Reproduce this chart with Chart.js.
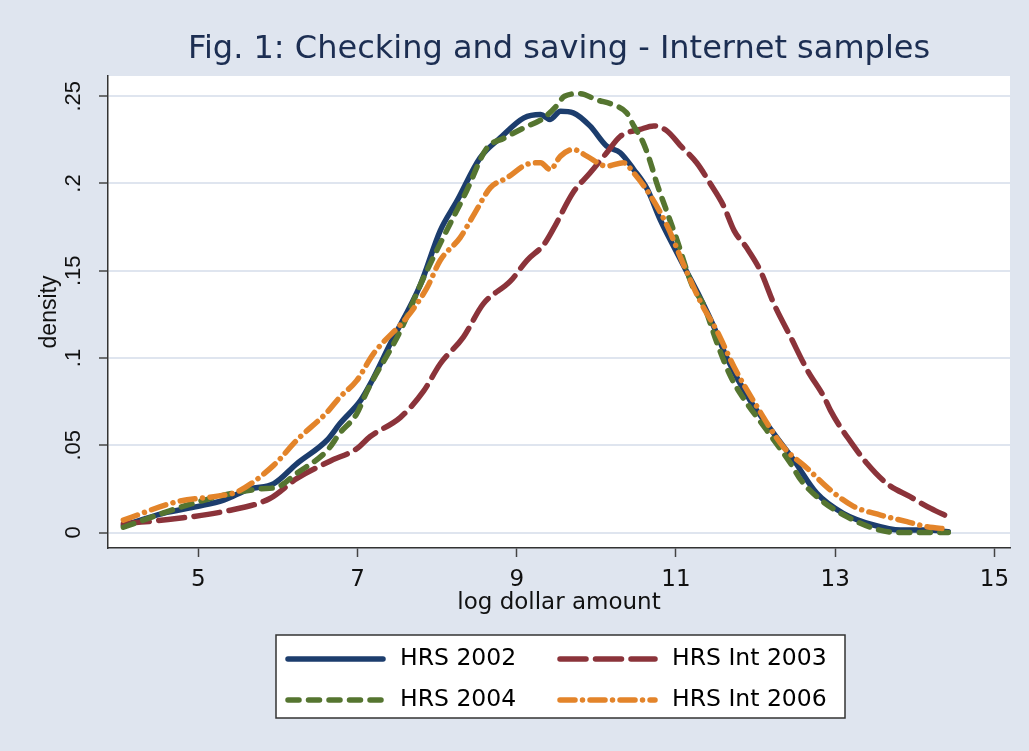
<!DOCTYPE html>
<html>
<head>
<meta charset="utf-8">
<script src="https://cdn.jsdelivr.net/npm/chart.js@4.4.1/dist/chart.umd.min.js"></script>
<style>
  html, body { margin: 0; padding: 0; background: #dfe5ef; }
  canvas { display: block; }
</style>
</head>
<body>
<canvas id="chart" width="1029" height="751"></canvas>
<script>
// series labels
const seriesLabels = ['HRS 2002', 'HRS Int 2003', 'HRS 2004', 'HRS Int 2006'];

// HRS 2002
const x2002 = [4.06, 4.56, 5.0, 5.32, 5.65, 5.95, 6.24, 6.62, 6.78, 7.04, 7.16, 7.41, 7.79, 8.04, 8.25, 8.54, 8.79, 9.09, 9.30, 9.42, 9.55, 9.71, 9.92, 10.13, 10.3, 10.47, 10.64, 10.8, 10.97, 11.14, 11.31, 11.47, 11.64, 11.93, 12.23, 12.48, 12.77, 13.1, 13.48, 13.82, 14.15, 14.42];
const y2002 = [0.004, 0.011, 0.015, 0.0186, 0.025, 0.028, 0.0395, 0.053, 0.0624, 0.0757, 0.085, 0.108, 0.142, 0.173, 0.19, 0.2147, 0.226, 0.2376, 0.2395, 0.2367, 0.2414, 0.2405, 0.233, 0.2214, 0.2176, 0.208, 0.1967, 0.1795, 0.164, 0.149, 0.134, 0.1186, 0.1, 0.0757, 0.0567, 0.0414, 0.0224, 0.011, 0.0043, 0.0014, 0.0014, 0.0005];

// HRS Int 2003
const x2003 = [4.06, 4.73, 5.32, 5.9, 6.24, 6.66, 6.99, 7.16, 7.54, 7.83, 8.04, 8.33, 8.58, 8.92, 9.13, 9.34, 9.46, 9.71, 9.92, 10.13, 10.3, 10.55, 10.72, 10.89, 11.05, 11.26, 11.43, 11.6, 11.73, 11.89, 12.06, 12.23, 12.44, 12.65, 12.86, 12.94, 13.07, 13.15, 13.4, 13.65, 13.94, 14.2, 14.42];
const y2003 = [0.005, 0.008, 0.012, 0.0195, 0.031, 0.041, 0.048, 0.055, 0.066, 0.081, 0.0967, 0.112, 0.131, 0.144, 0.156, 0.165, 0.174, 0.195, 0.206, 0.2176, 0.227, 0.231, 0.233, 0.23, 0.222, 0.2119, 0.2, 0.187, 0.173, 0.163, 0.15, 0.131, 0.112, 0.093, 0.0776, 0.07, 0.06, 0.0548, 0.0395, 0.028, 0.0205, 0.0138, 0.009];

// HRS 2004
const x2004 = [4.06, 4.73, 5.32, 5.78, 5.99, 6.24, 6.62, 6.78, 6.99, 7.12, 7.54, 7.83, 8.12, 8.37, 8.62, 8.84, 9.09, 9.34, 9.51, 9.6, 9.8, 10.0, 10.22, 10.38, 10.47, 10.59, 10.68, 10.76, 10.89, 11.01, 11.2, 11.35, 11.52, 11.68, 11.81, 12.14, 12.44, 12.57, 12.82, 13.15, 13.48, 13.77, 14.42];
const y2004 = [0.003, 0.0138, 0.0214, 0.025, 0.026, 0.034, 0.047, 0.057, 0.068, 0.081, 0.1157, 0.146, 0.173, 0.1957, 0.22, 0.226, 0.2319, 0.2376, 0.245, 0.25, 0.2515, 0.248, 0.245, 0.2405, 0.233, 0.2233, 0.212, 0.2, 0.1833, 0.168, 0.142, 0.13, 0.108, 0.09, 0.0795, 0.0586, 0.0395, 0.03, 0.0186, 0.009, 0.0024, 0.0, 0.0];

// HRS Int 2006
const x2006 = [4.06, 4.73, 5.32, 5.5, 5.95, 6.24, 6.62, 6.78, 6.99, 7.2, 7.62, 7.87, 8.04, 8.29, 8.46, 8.67, 8.88, 9.13, 9.3, 9.42, 9.55, 9.71, 9.88, 10.13, 10.34, 10.47, 10.68, 10.89, 11.1, 11.31, 11.52, 11.73, 12.02, 12.35, 12.65, 12.94, 13.23, 13.57, 13.9, 14.15, 14.42];
const y2006 = [0.0071, 0.0176, 0.0214, 0.0235, 0.0386, 0.053, 0.069, 0.0776, 0.087, 0.1024, 0.1233, 0.14, 0.156, 0.169, 0.182, 0.1976, 0.2033, 0.211, 0.2119, 0.208, 0.2157, 0.2195, 0.2157, 0.21, 0.2119, 0.206, 0.193, 0.1757, 0.153, 0.132, 0.115, 0.0948, 0.0719, 0.049, 0.0367, 0.0243, 0.015, 0.01, 0.0062, 0.0033, 0.002];

// axis ticks
const xTicks = [5, 7, 9, 11, 13, 15];
const yTicks = [0, 0.05, 0.1, 0.15, 0.2, 0.25];
const yTickLabels = ['0', '.05', '.1', '.15', '.2', '.25'];

const wideFont = '"DejaVu Sans", sans-serif';
const narrowFont = '"Liberation Sans", Arial, sans-serif';

function pts(xs, ys) {
  return xs.map((x, i) => ({ x: x, y: ys[i] }));
}

// background + white plot region
const bgPlugin = {
  id: 'bg',
  beforeDraw(chart) {
    const { ctx, chartArea: a } = chart;
    ctx.save();
    ctx.fillStyle = '#dfe5ef';
    ctx.fillRect(0, 0, chart.width, chart.height);
    ctx.fillStyle = '#ffffff';
    ctx.fillRect(a.left, a.top, a.right - a.left, a.bottom - a.top);
    ctx.restore();
  }
};

// boxed 2x2 legend under the axis title
const legendBox = {
  id: 'legendBox',
  afterDraw(chart) {
    const ctx = chart.ctx;
    const bx = 276, by = 635, bw = 569, bh = 83;
    ctx.save();
    ctx.fillStyle = '#ffffff';
    ctx.fillRect(bx, by, bw, bh);
    ctx.strokeStyle = '#333333';
    ctx.lineWidth = 1.5;
    ctx.strokeRect(bx, by, bw, bh);
    ctx.font = '23.5px ' + wideFont;
    ctx.textBaseline = 'middle';
    chart.data.datasets.forEach((ds, i) => {
      const col = i % 2, row = Math.floor(i / 2);
      const lx = bx + 9 + col * 272;
      const ly = by + 24 + row * 41;
      ctx.strokeStyle = ds.borderColor;
      ctx.lineWidth = ds.borderWidth;
      ctx.lineCap = 'round';
      ctx.setLineDash(ds.borderDash || []);
      ctx.beginPath();
      ctx.moveTo(lx + 3, ly);
      ctx.lineTo(lx + 98, ly);
      ctx.stroke();
      ctx.setLineDash([]);
      ctx.fillStyle = '#000000';
      ctx.fillText(ds.label, lx + 115, ly);
    });
    ctx.restore();
  }
};

new Chart(document.getElementById('chart'), {
  type: 'line',
  data: {
    datasets: [
      { label: seriesLabels[0], data: pts(x2002, y2002), borderColor: '#1c3d6d', borderWidth: 5.5, order: 4 },
      { label: seriesLabels[1], data: pts(x2003, y2003), borderColor: '#8b333a', borderWidth: 5.5, borderDash: [26, 9.5], order: 3 },
      { label: seriesLabels[2], data: pts(x2004, y2004), borderColor: '#557530', borderWidth: 5.5, borderDash: [11, 9.5], order: 2 },
      { label: seriesLabels[3], data: pts(x2006, y2006), borderColor: '#e3842a', borderWidth: 5.5, borderDash: [15, 7.5, 0.01, 7.5], order: 1 }
    ]
  },
  options: {
    responsive: false,
    animation: false,
    layout: { padding: { left: 0, right: 19, top: 0, bottom: 123 } },
    elements: {
      point: { radius: 0, hoverRadius: 0 },
      line: { borderCapStyle: 'round', borderJoinStyle: 'round', cubicInterpolationMode: 'monotone', fill: false }
    },
    plugins: {
      legend: { display: false },
      tooltip: { enabled: false },
      title: {
        display: true,
        fullSize: false,
        text: 'Fig. 1: Checking and saving - Internet samples',
        color: '#1c2e52',
        font: { family: wideFont, size: 32, weight: 'normal' },
        padding: { top: 30, bottom: 7.6 }
      }
    },
    scales: {
      x: {
        type: 'linear',
        min: 3.867,
        max: 15.195,
        afterFit: s => { s.height = 80; },
        afterBuildTicks: s => { s.ticks = xTicks.map(v => ({ value: v })); },
        ticks: {
          autoSkip: false, maxRotation: 0, padding: 9, color: '#111111',
          font: { family: wideFont, size: 23 },
          callback: v => String(v)
        },
        grid: { drawOnChartArea: false, drawTicks: true, tickLength: 9, color: '#444444', tickWidth: 1.5 },
        border: { display: true, color: '#333333', width: 1.5 },
        title: {
          display: true, text: 'log dollar amount', color: '#111111',
          font: { family: wideFont, size: 23 },
          padding: { top: 0, bottom: 11 }
        }
      },
      y: {
        type: 'linear',
        min: -0.00888,
        max: 0.2616,
        afterFit: s => { s.width = 108; },
        afterBuildTicks: s => { s.ticks = yTicks.map(v => ({ value: v })); },
        ticks: {
          autoSkip: false, minRotation: 90, maxRotation: 90, crossAlign: 'center', padding: 10,
          color: '#111111',
          font: { family: narrowFont, size: 22 },
          callback: (v, i) => yTickLabels[i]
        },
        grid: { color: '#dfe5ef', lineWidth: 2, drawTicks: true, tickLength: 9, tickColor: '#444444', tickWidth: 1.5 },
        border: { display: true, color: '#333333', width: 1.5 },
        title: {
          display: true, text: 'density', color: '#111111',
          font: { family: narrowFont, size: 23 },
          padding: { top: 36, bottom: 0 }
        }
      }
    }
  },
  plugins: [bgPlugin, legendBox]
});
</script>
</body>
</html>
